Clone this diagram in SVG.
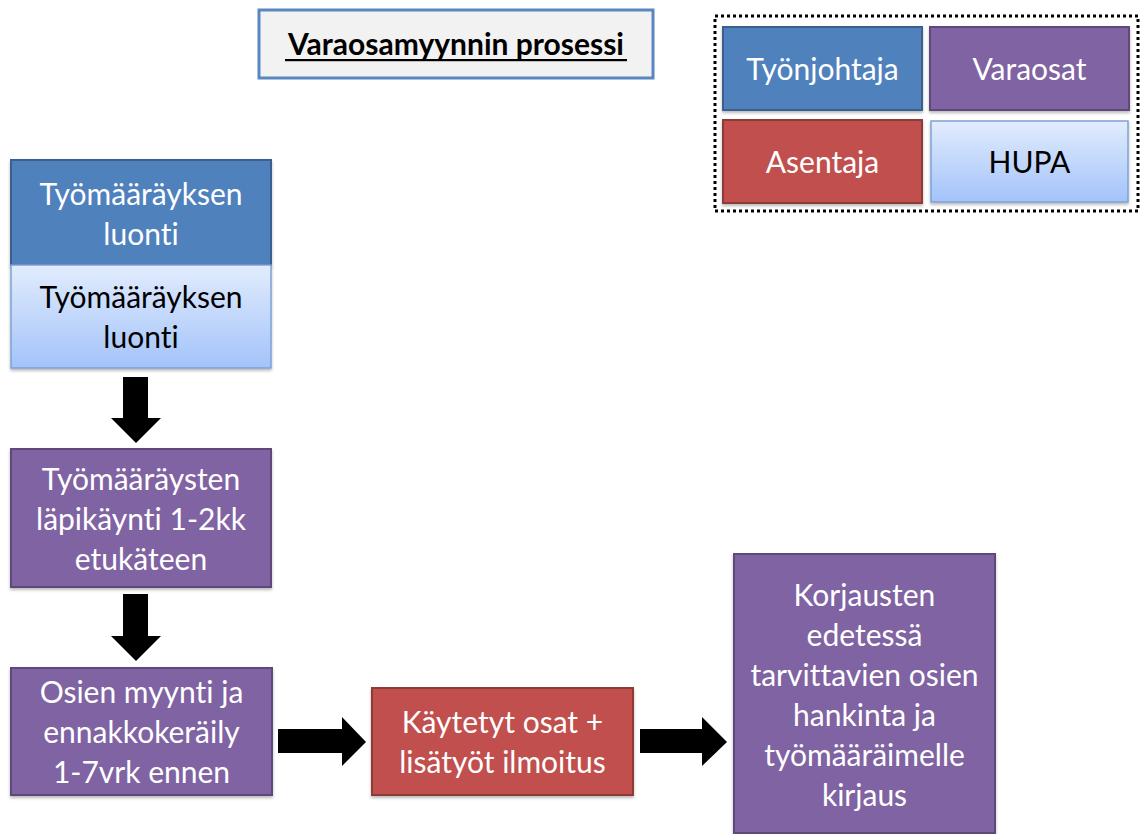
<svg xmlns="http://www.w3.org/2000/svg" width="1144" height="834" viewBox="0 0 1144 834">
  <defs>
    <linearGradient id="hupaFill" x1="0" y1="0" x2="0" y2="1">
      <stop offset="0" stop-color="#e2ecfd"/>
      <stop offset="1" stop-color="#a3c3fa"/>
    </linearGradient>
    <filter id="shadow" x="-5%" y="-5%" width="110%" height="115%">
      <feDropShadow dx="0" dy="2" stdDeviation="1.5" flood-color="#000" flood-opacity="0.28"/>
    </filter>
    <style>
      text    { font-variant-ligatures: none; font-feature-settings: "liga" 0, "clig" 0, "dlig" 0; }
      .blue   { fill: #4f81bd; stroke: #3b6190; stroke-width: 2; filter: url(#shadow); }
      .purple { fill: #8064a2; stroke: #5e4a7a; stroke-width: 2; filter: url(#shadow); }
      .red    { fill: #c0504d; stroke: #8e3b39; stroke-width: 2; filter: url(#shadow); }
      .hupa   { fill: url(#hupaFill); stroke: #7ea2d4; stroke-width: 1.5; filter: url(#shadow); }
      .lbl    { font-family: Lato, "Liberation Sans", sans-serif; font-size: 30px; text-anchor: middle; fill: #ffffff; }
      .dark   { fill: #000000; }
      .arrow  { fill: #000000; }
    </style>
  </defs>

  <rect width="1144" height="834" fill="#ffffff"/>

  <!-- title -->
  <g id="title">
    <rect x="259" y="10" width="394" height="68" fill="#f2f2f2" stroke="#5a87c2" stroke-width="3"/>
    <text x="456" y="55" font-family="Lato, 'Liberation Sans', sans-serif" font-size="30" font-weight="bold" text-anchor="middle" fill="#000">Varaosamyynnin prosessi</text>
    <rect x="285" y="59" width="342" height="2.2" fill="#000"/>
  </g>

  <!-- role legend -->
  <g id="legend">
    <rect x="715" y="16" width="423" height="195" fill="none" stroke="#000" stroke-width="3" stroke-dasharray="3 3"/>
    <g id="legend-tyonjohtaja">
      <rect class="blue" x="723" y="27" width="199" height="83"/>
      <text class="lbl" x="822.5" y="80">Työnjohtaja</text>
    </g>
    <g id="legend-varaosat">
      <rect class="purple" x="930" y="27" width="199" height="83"/>
      <text class="lbl" x="1029.5" y="80">Varaosat</text>
    </g>
    <g id="legend-asentaja">
      <rect class="red" x="723" y="120" width="199" height="83"/>
      <text class="lbl" x="822.5" y="173">Asentaja</text>
    </g>
    <g id="legend-hupa">
      <rect class="hupa" x="931" y="121" width="197" height="81"/>
      <text class="lbl dark" x="1029.5" y="173">HUPA</text>
    </g>
  </g>

  <!-- process steps -->
  <g id="node-luonti-tj">
    <rect class="blue" x="11" y="160" width="260" height="105"/>
    <text class="lbl" x="141" y="205">Työmääräyksen</text>
    <text class="lbl" x="141" y="245">luonti</text>
  </g>

  <g id="node-luonti-hupa">
    <rect class="hupa" x="11" y="265" width="260" height="103"/>
    <text class="lbl dark" x="141" y="308">Työmääräyksen</text>
    <text class="lbl dark" x="141" y="348">luonti</text>
  </g>

  <g id="node-lapikaynti">
    <rect class="purple" x="11" y="449" width="260" height="138"/>
    <text class="lbl" x="141" y="490">Työmääräysten</text>
    <text class="lbl" x="141" y="530">läpikäynti 1-2kk</text>
    <text class="lbl" x="141" y="570">etukäteen</text>
  </g>

  <g id="node-osien-myynti">
    <rect class="purple" x="11" y="668" width="261" height="127"/>
    <text class="lbl" x="141.5" y="703">Osien myynti ja</text>
    <text class="lbl" x="141.5" y="743">ennakkokeräily</text>
    <text class="lbl" x="141.5" y="783">1-7vrk ennen</text>
  </g>

  <g id="node-kaytetyt-osat">
    <rect class="red" x="372" y="688" width="261" height="107"/>
    <text class="lbl" x="502.5" y="733">Käytetyt osat +</text>
    <text class="lbl" x="502.5" y="773">lisätyöt ilmoitus</text>
  </g>

  <g id="node-korjausten">
    <rect class="purple" x="734" y="554" width="261" height="279"/>
    <text class="lbl" x="864.5" y="606">Korjausten</text>
    <text class="lbl" x="864.5" y="646">edetessä</text>
    <text class="lbl" x="864.5" y="686">tarvittavien osien</text>
    <text class="lbl" x="864.5" y="726">hankinta ja</text>
    <text class="lbl" x="864.5" y="766">työmääräimelle</text>
    <text class="lbl" x="864.5" y="806">kirjaus</text>
  </g>

  <!-- block arrows between steps -->
  <g id="connectors">
    <polygon class="arrow" points="123,377 148,377 148,418 161,418 136,443 111,418 123,418"/>
    <polygon class="arrow" points="123,594 148,594 148,636 161,636 136,661 111,636 123,636"/>
    <polygon class="arrow" points="278,729 342,729 342,717 366,742 342,766 342,753 278,753"/>
    <polygon class="arrow" points="640,729 702,729 702,717 727,742 702,766 702,753 640,753"/>
  </g>
</svg>
